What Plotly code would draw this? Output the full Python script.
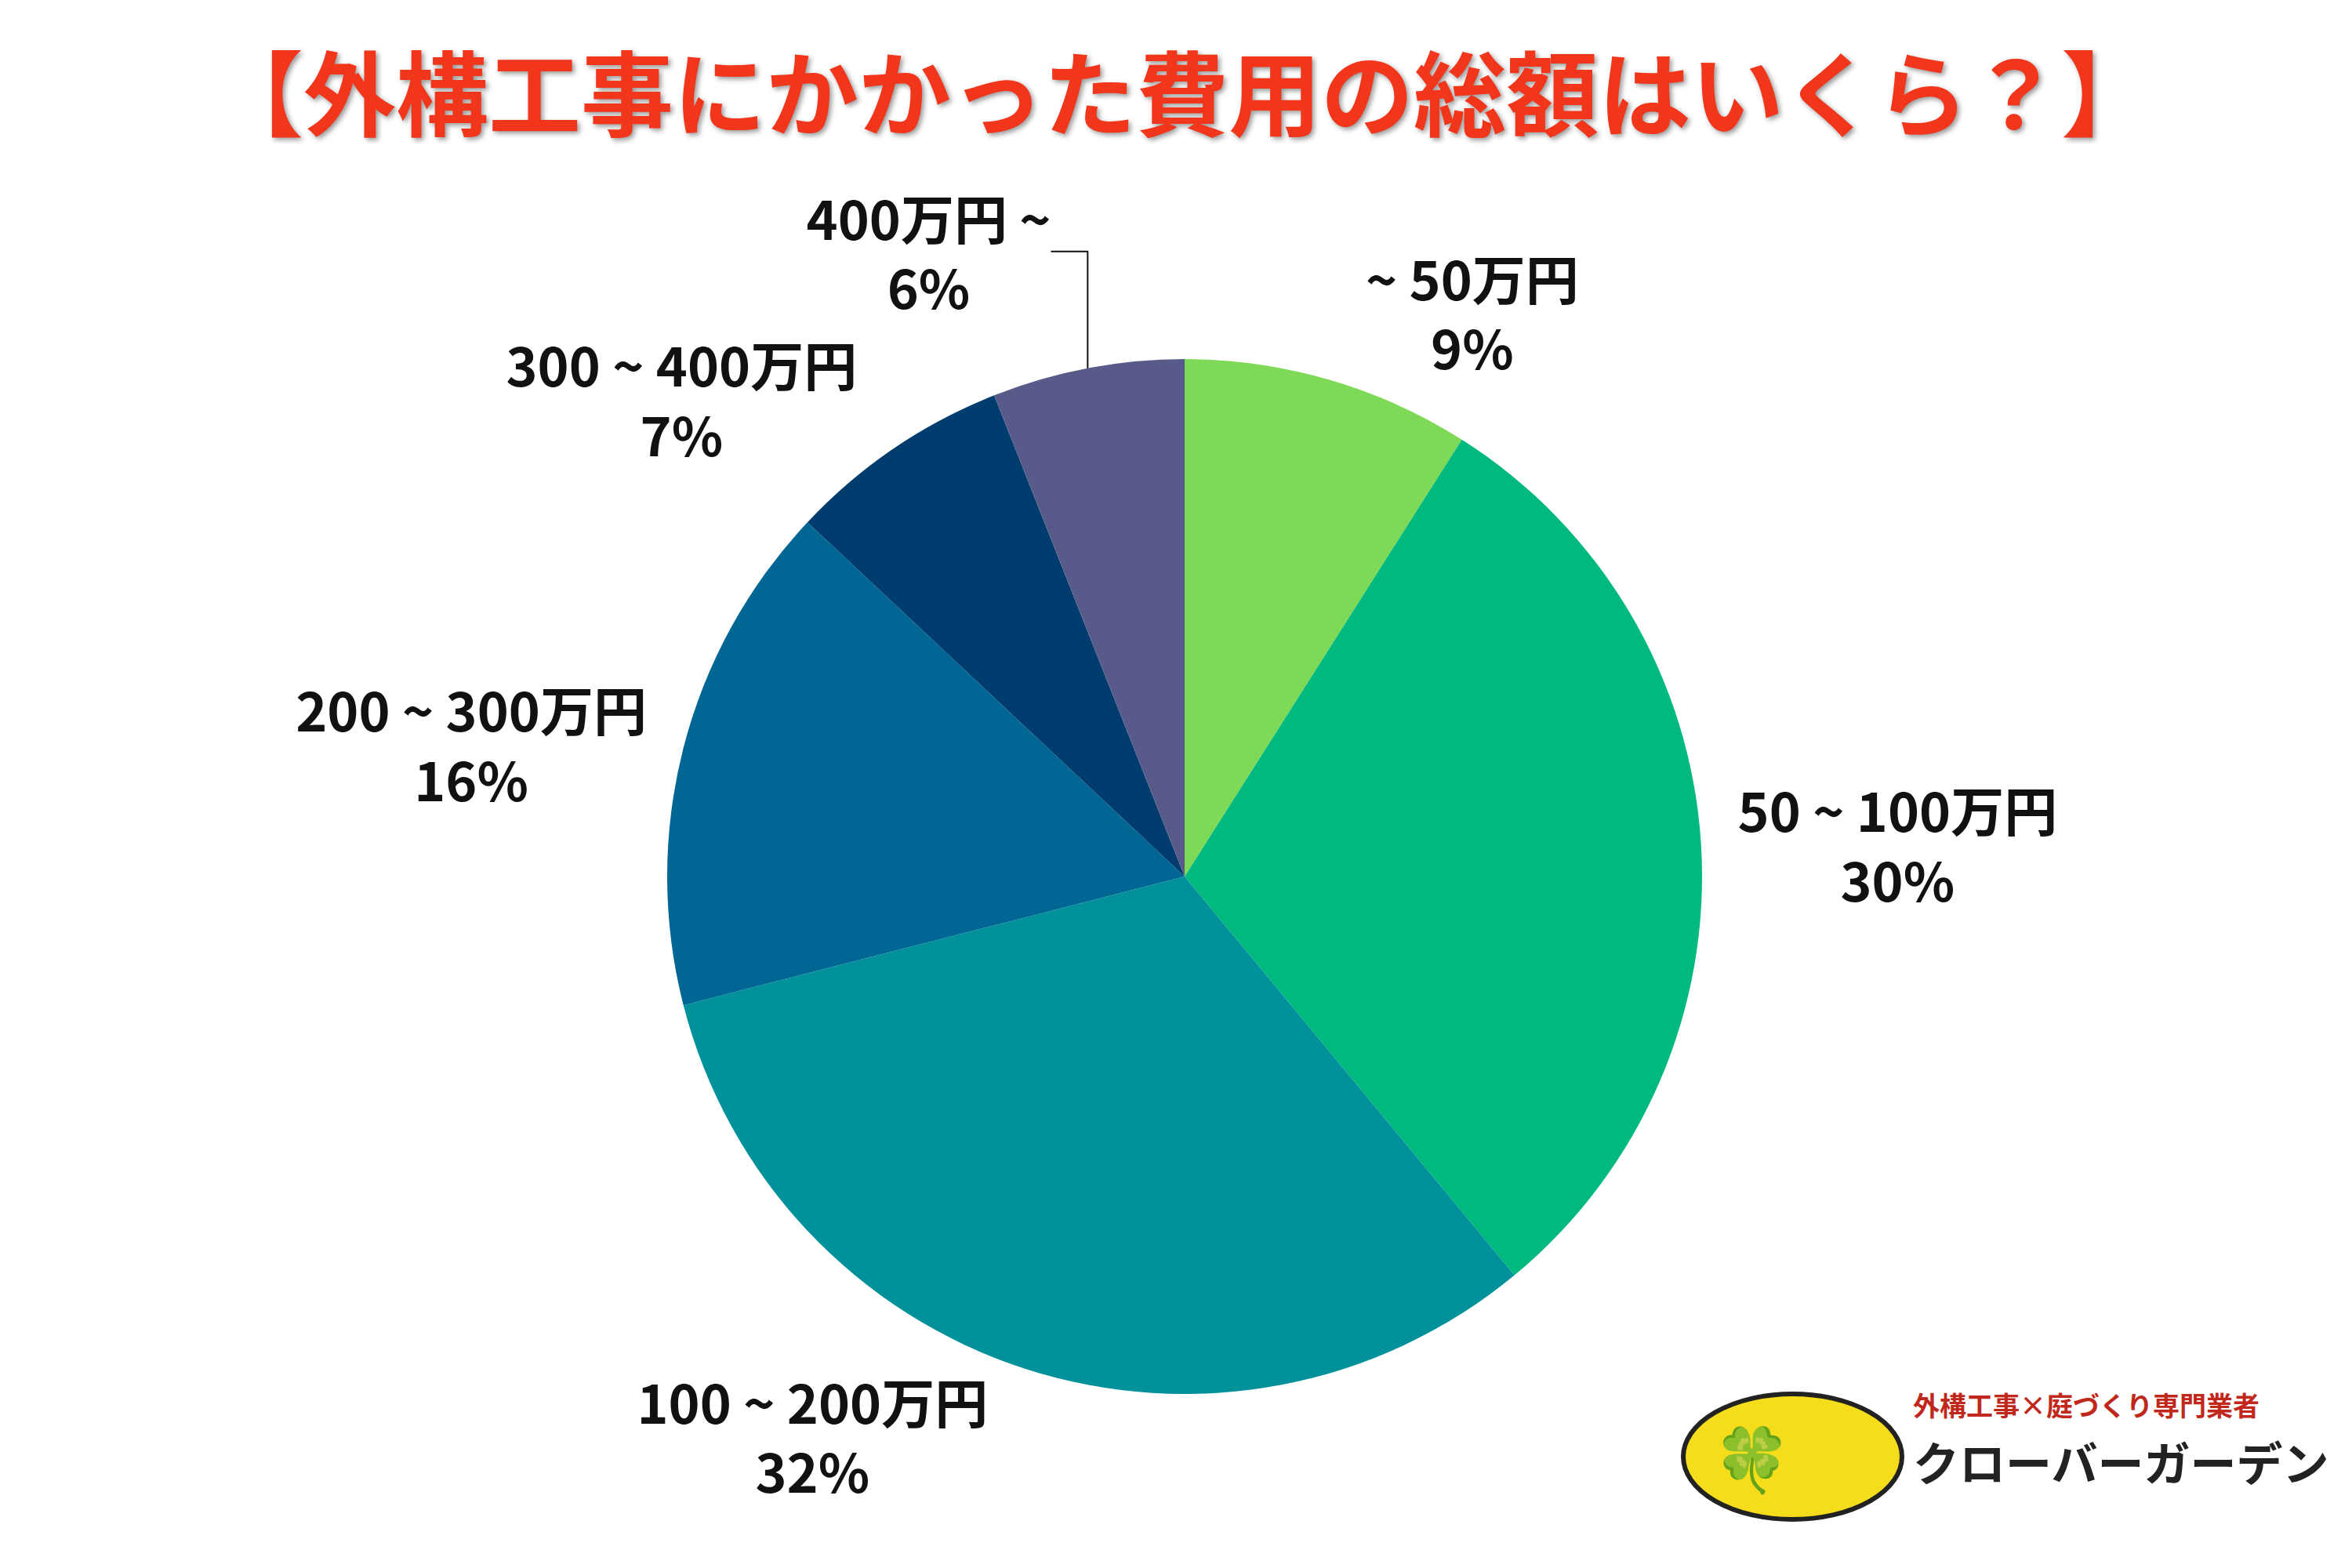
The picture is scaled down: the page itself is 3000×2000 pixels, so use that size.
import plotly.graph_objects as go

labels = ['～50万円', '50～100万円', '100～200万円', '200～300万円', '300～400万円', '400万円～']
labels = [s.replace('～', ' ~ ').strip() for s in labels]
values = [9, 30, 32, 16, 7, 6]
colors = ['#7ed957', '#00b97e', '#00919a', '#006794', '#003d6e', '#585a8a']

fig = go.Figure()
fig.add_trace(go.Pie(
    labels=labels,
    values=values,
    sort=False,
    direction='clockwise',
    rotation=0,
    marker=dict(colors=colors, line=dict(width=0)),
    texttemplate='%{label}<br>%{value}%',
    textposition='outside',
    textfont=dict(family='Noto Sans CJK JP', size=68, color='#111111', weight='bold'),
    domain=dict(x=[0.281, 0.721], y=[0.115, 0.775]),
    showlegend=False,
))

fig.update_layout(
    width=3000, height=2000,
    margin=dict(l=0, r=0, t=0, b=0),
    paper_bgcolor='white',
    title=dict(
        text='【外構工事にかかった費用の総額はいくら？】',
        x=0.5, xanchor='center', y=0.942, yanchor='middle',
        font=dict(family='Noto Sans CJK JP', size=118, color='#f2361c', weight='bold',
                  shadow='3px 3px 6px #999999'),
    ),
)

# logo at bottom right
fig.add_shape(type='circle', xref='paper', yref='paper',
              x0=0.713, x1=0.806, y0=0.035, y1=0.115,
              fillcolor='#f5dd1c', line=dict(color='#222222', width=6))
fig.add_annotation(x=0.7595, y=0.075, xref='paper', yref='paper', showarrow=False,
                   yanchor='middle', text='🍀', font=dict(size=80, color='#3aa83a'))
fig.add_annotation(x=0.81, y=0.095, xref='paper', yref='paper', showarrow=False,
                   xanchor='left', text='外構工事×庭づくり専門業者',
                   font=dict(family='Noto Sans CJK JP', size=34, color='#c0281c', weight='bold'))
fig.add_annotation(x=0.81, y=0.05, xref='paper', yref='paper', showarrow=False,
                   xanchor='left', text='クローバーガーデン',
                   font=dict(family='Noto Sans CJK JP', size=59, color='#222222', weight='bold'))

fig.write_html('out.html')
